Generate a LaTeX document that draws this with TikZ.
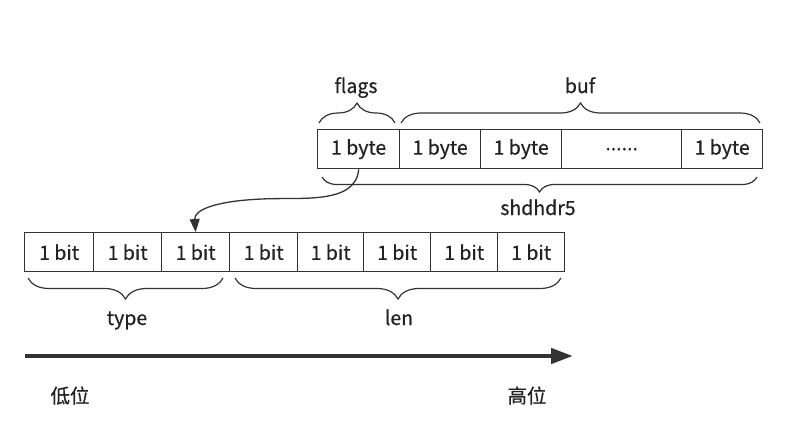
\documentclass[tikz,border=0pt]{standalone}
\usepackage{fontspec}
\setmainfont{Noto Sans CJK SC}[FakeBold=0.6]
\usetikzlibrary{arrows.meta,decorations.pathreplacing,positioning}
\definecolor{ink}{HTML}{333333}
\definecolor{txt}{HTML}{222222}
\begin{document}
\begin{tikzpicture}[x=1pt,y=-1pt,
  cellbox/.style={draw=ink,line width=1.3pt,minimum height=39pt,inner sep=0pt,font=\fontsize{19.5}{22}\selectfont,text=txt,anchor=north west},
  lbl/.style={font=\fontsize{19.5}{22}\selectfont,text=txt,inner sep=0pt,text height=14pt,text depth=4pt},
  bracestyle/.style={draw=ink,line width=1.2pt,decorate,decoration={brace,amplitude=#1}},
  bracestyle/.default=20pt]
\useasboundingbox (0,0) rectangle (787,439);
% top row
\node[cellbox,minimum width=82pt] (b1) at (317,129) {1 byte};
\node[cellbox,minimum width=81pt] (b2) at (399,129) {1 byte};
\node[cellbox,minimum width=81pt] (b3) at (480,129) {1 byte};
\node[cellbox,minimum width=120pt] (b4) at (561,129) {......};
\node[cellbox,minimum width=81pt] (b5) at (681,129) {1 byte};
% bottom row
\node[cellbox,minimum width=69pt] (c1) at (24,232) {1 bit};
\node[cellbox,minimum width=68pt] (c2) at (93,232) {1 bit};
\node[cellbox,minimum width=68pt] (c3) at (161,232) {1 bit};
\node[cellbox,minimum width=68pt] (c4) at (229,232) {1 bit};
\node[cellbox,minimum width=66pt] (c5) at (297,232) {1 bit};
\node[cellbox,minimum width=67pt] (c6) at (363,232) {1 bit};
\node[cellbox,minimum width=67pt] (c7) at (430,232) {1 bit};
\node[cellbox,minimum width=67pt] (c8) at (497,232) {1 bit};
% braces
\coordinate (fl0) at (319,123); \coordinate (fl1) at (395,123);
\coordinate (bu0) at (401,123); \coordinate (bu1) at (760,123);
\coordinate (sh0) at (757,177); \coordinate (sh1) at (322,177);
\coordinate (ty0) at (223,278); \coordinate (ty1) at (28,278);
\coordinate (le0) at (561,278); \coordinate (le1) at (235,278);
\draw[bracestyle] (fl0) -- (fl1);
\draw[bracestyle] (bu0) -- (bu1);
\draw[bracestyle=15pt] (sh0) -- (sh1);
\draw[bracestyle=21pt] (ty0) -- (ty1);
\draw[bracestyle=21pt] (le0) -- (le1);
% labels
\node[lbl] (lflags) at (356,88) {flags};
\node[lbl] (lbuf) at (580,88) {buf};
\node[lbl] (lsh) at (538,210) {shdhdr5};
\node[lbl] (ltype) at (127,320) {type};
\node[lbl] (llen) at (399,320) {len};
\node[lbl] (llow) at (70,398) {低位};
\node[lbl] (lhigh) at (527,398) {高位};
% curved arrow
\draw[ink,line width=1.3pt,-{Triangle[length=13pt,width=10pt]}]
  (b1.south) .. controls (356,205) and (300,197) .. (262,199)
  .. controls (215,201) and (194,210) .. (c3.north);
% direction arrow
\coordinate (d0) at (25,356);
\coordinate (d1) at (573,356);
\draw[ink,line width=4.5pt,-{Triangle[length=22pt,width=15pt]}] (d0) -- (d1);
\end{tikzpicture}
\end{document}
